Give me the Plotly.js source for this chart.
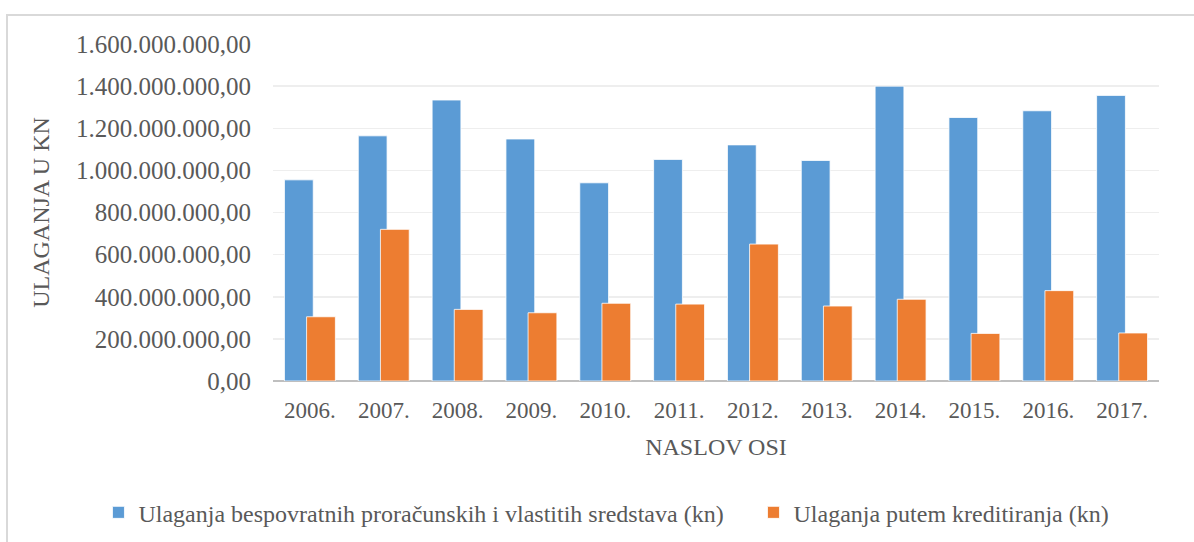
<!DOCTYPE html>
<html>
<head>
<meta charset="utf-8">
<script src="https://cdn.plot.ly/plotly-3.0.1.min.js"></script>
<style>
  html, body { margin: 0; padding: 0; background: #fff; }
  #grafikon { width: 1194px; height: 542px; }
</style>
</head>
<body>
<div id="grafikon"></div>
<script>
const godine = ['2006.', '2007.', '2008.', '2009.', '2010.', '2011.',
  '2012.', '2013.', '2014.', '2015.', '2016.', '2017.'];
const bespovratna = [955e6, 1164e6, 1334e6, 1149e6, 941e6, 1052e6,
  1121e6, 1047e6, 1400e6, 1251e6, 1283e6, 1356e6];
const kreditiranje = [305e6, 720e6, 340e6, 324e6, 369e6, 365e6,
  650e6, 356e6, 388e6, 226e6, 429e6, 228e6];

const font = '"Liberation Serif"';
const siva = '#595959';

const plava = {
  x: godine,
  y: bespovratna,
  type: 'bar',
  name: 'Ulaganja bespovratnih proračunskih i vlastitih sredstava (kn)',
  width: 0.39,
  offset: -0.345,
  legend: 'legend',
  marker: { color: '#5b9bd5', line: { color: '#ffffff', width: 0.8 } }
};

const narancasta = {
  x: godine,
  y: kreditiranje,
  type: 'bar',
  name: 'Ulaganja putem kreditiranja (kn)',
  width: 0.39,
  offset: -0.045,
  legend: 'legend2',
  marker: { color: '#ed7d31', line: { color: '#ffffff', width: 0.8 } }
};

const legendaStil = {
  orientation: 'h',
  xanchor: 'left',
  y: -0.391, yanchor: 'middle',
  bgcolor: 'rgba(0,0,0,0)',
  font: { family: font, size: 24, color: siva }
};

const layout = {
  width: 1194,
  height: 542,
  margin: { l: 273, r: 35, t: 44, b: 161, autoexpand: false },
  paper_bgcolor: '#ffffff',
  plot_bgcolor: '#ffffff',
  barmode: 'overlay',
  separators: ',.',
  font: { family: font, size: 24, color: siva },
  showlegend: true,
  legend: Object.assign({ x: -0.197 }, legendaStil),
  legend2: Object.assign({ x: 0.5423 }, legendaStil),
  xaxis: {
    type: 'category',
    showgrid: false,
    ticks: 'outside',
    ticklen: 8,
    tickcolor: 'rgba(0,0,0,0)',
    tickfont: { family: font, size: 23, color: siva },
    title: { text: 'NASLOV OSI', standoff: 16, font: { family: font, size: 24, color: siva } }
  },
  yaxis: {
    range: [0, 1.6e9],
    dtick: 2e8,
    tickformat: ',.2f',
    showgrid: true,
    gridcolor: '#eeeeee',
    gridwidth: 1.5,
    zeroline: true,
    zerolinecolor: '#bfbfbf',
    zerolinewidth: 2,
    ticks: 'outside',
    ticklen: 16,
    tickcolor: 'rgba(0,0,0,0)',
    tickfont: { family: font, size: 25, color: siva },
    title: { text: 'ULAGANJA U KN', standoff: 19, font: { family: font, size: 24, color: siva } }
  },
  shapes: [{
    type: 'rect',
    xref: 'paper', yref: 'paper',
    x0: -0.3002, x1: 1.2,
    y0: -0.6, y1: 1.086,
    line: { color: '#d9d9d9', width: 2 },
    fillcolor: 'rgba(0,0,0,0)',
    layer: 'below'
  }]
};

Plotly.newPlot('grafikon', [plava, narancasta], layout, { displayModeBar: false, staticPlot: true });
</script>
</body>
</html>
